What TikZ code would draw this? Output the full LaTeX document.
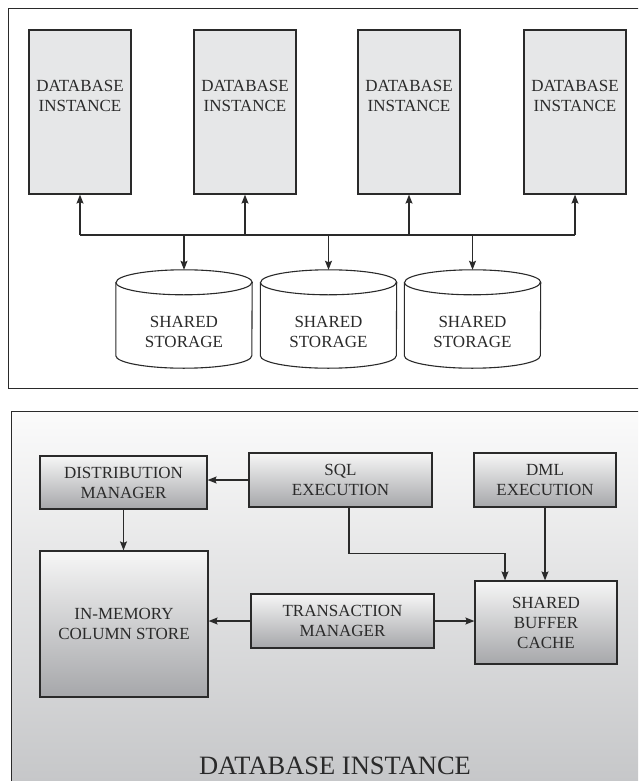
\documentclass[tikz,border=0pt]{standalone}
\usepackage{fontspec}
\setmainfont{Liberation Serif}
\usetikzlibrary{arrows.meta}
\definecolor{ink}{HTML}{2A2A2A}
\definecolor{dbfill}{HTML}{E6E7E8}
\definecolor{gtop}{HTML}{F6F6F6}
\definecolor{gbot}{HTML}{A6A7AA}
\definecolor{ptop}{HTML}{FBFBFB}
\definecolor{pbot}{HTML}{C4C5C7}
\tikzset{
  arr/.style={draw=ink, line width=1.2pt, -{Stealth[length=9pt,width=7pt,inset=1.5pt]}},
  bus/.style={draw=ink, line width=1.2pt},
  panel/.style={draw=ink, line width=1pt},
  dbbox/.style={draw=ink, line width=1.2pt, fill=dbfill, minimum width=102pt, minimum height=164pt, inner sep=0pt},
  dbtext/.style={text=ink, align=center, font=\fontsize{17}{20}\selectfont, anchor=center, yshift=-67pt},
  cylbox/.style={draw=none, minimum width=136pt, minimum height=98pt, inner sep=0pt},
  cyltext/.style={text=ink, align=center, font=\fontsize{17}{20}\selectfont, anchor=center, yshift=-62pt},
  gbox/.style={draw=ink, line width=1.2pt, top color=gtop, bottom color=gbot, inner sep=0pt,
    text=ink, align=center, font=\fontsize{17}{20}\selectfont},
  biglabel/.style={text=ink, font=\fontsize{26.5}{30}\selectfont, anchor=base}
}
\newcommand{\cylout}[1]{%
  \draw[ink, line width=1.1pt] ([yshift=-12.5pt]#1.north west) -- ([yshift=12.5pt]#1.south west)
    arc[start angle=180, end angle=360, x radius=68pt, y radius=12.5pt]
    -- ([yshift=-12.5pt]#1.north east)
    arc[start angle=0, end angle=180, x radius=68pt, y radius=12.5pt];
  \draw[ink, line width=1.1pt] ([yshift=-12.5pt]#1.north west)
    arc[start angle=180, end angle=360, x radius=68pt, y radius=12.5pt];
}
\begin{document}
\begin{tikzpicture}[x=1pt, y=-1pt]
\useasboundingbox (0,0) rectangle (638,781);
\clip (0,0) rectangle (638,781);
% top panel
\draw[panel] (642,9) -- (8,9) -- (8,388) -- (642,388);
% database instances
\node[dbbox, label={[dbtext]north:DATABASE\\INSTANCE}] (d1) at (80,112) {};
\node[dbbox, label={[dbtext]north:DATABASE\\INSTANCE}] (d2) at (245,112) {};
\node[dbbox, label={[dbtext]north:DATABASE\\INSTANCE}] (d3) at (409,112) {};
\node[dbbox, label={[dbtext]north:DATABASE\\INSTANCE}] (d4) at (575,112) {};
% shared storage
\node[cylbox, label={[cyltext]north:SHARED\\STORAGE}] (s1) at (184,319) {};
\node[cylbox, label={[cyltext]north:SHARED\\STORAGE}] (s2) at (328.5,319) {};
\node[cylbox, label={[cyltext]north:SHARED\\STORAGE}] (s3) at (472.5,319) {};
\cylout{s1}
\cylout{s2}
\cylout{s3}
% bus
\coordinate (bl) at (0,235);
\draw[bus] (d1.south |- bl) -- (d4.south |- bl);
\draw[arr] (d1.south |- bl) -- (d1.south);
\draw[arr] (d2.south |- bl) -- (d2.south);
\draw[arr] (d3.south |- bl) -- (d3.south);
\draw[arr] (d4.south |- bl) -- (d4.south);
\draw[arr] (s1.north |- bl) -- (s1.north);
\draw[arr] (s2.north |- bl) -- (s2.north);
\draw[arr] (s3.north |- bl) -- (s3.north);
% bottom panel
\draw[panel, top color=ptop, bottom color=pbot] (11,411) rectangle (648,795);
\node[gbox, minimum width=167pt, minimum height=53pt] (dm) at (123.5,482.5) {DISTRIBUTION\\MANAGER};
\node[gbox, minimum width=183pt, minimum height=54pt] (sql) at (340.5,480) {SQL\\EXECUTION};
\node[gbox, minimum width=142pt, minimum height=54pt] (dml) at (545,480) {DML\\EXECUTION};
\node[gbox, minimum width=168pt, minimum height=146pt] (imcs) at (124,624) {IN-MEMORY\\COLUMN STORE};
\node[gbox, minimum width=183pt, minimum height=54pt] (tm) at (342.5,621) {TRANSACTION\\MANAGER};
\node[gbox, minimum width=142pt, minimum height=83pt] (sbc) at (546,622.5) {SHARED\\BUFFER\\CACHE};
\node[biglabel] (dbi) at (335,774.5) {DATABASE INSTANCE};
% connectors
\draw[arr] (sql.west) -- (sql.west -| dm.east);
\draw[arr] (dm.south) -- (dm.south |- imcs.north);
\draw[arr] ([xshift=8.5pt]sql.south) -- ++(0,46) -| ([xshift=-41pt]sbc.north);
\draw[arr] (dml.south) -- (dml.south |- sbc.north);
\draw[arr] (tm.west) -- (tm.west -| imcs.east);
\draw[arr] (tm.east) -- (tm.east -| sbc.west);
\end{tikzpicture}
\end{document}
